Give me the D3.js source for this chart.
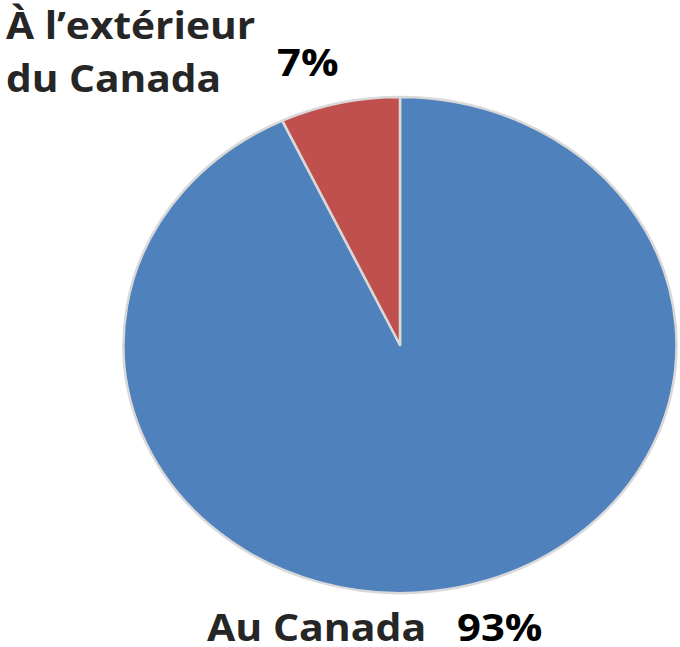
<!DOCTYPE html>
<html>
<head>
<meta charset="utf-8">
<script src="https://cdn.jsdelivr.net/npm/d3@7"></script>
<style>
  body { margin: 0; background: #fff; }
  text { font-family: "Open Sans", sans-serif; }
</style>
</head>
<body>
<svg id="svg" width="680" height="647"></svg>
<script>
// データ
const categories = ["Au Canada", "À l’extérieur du Canada"];
const values = [93, 7];
const colors = ["#4f81bd", "#c0504d"];

const svg = d3.select("#svg");

// 円グラフ（横に少し引き伸ばされている）
const r = 248;
const stretch = 276.5 / 248;
const pieG = svg.append("g")
  .attr("transform", `translate(400,345) scale(${stretch},1)`);

const pie = d3.pie().sort(null).value(d => d);
const arc = d3.arc().innerRadius(0).outerRadius(r);

pieG.selectAll("path")
  .data(pie(values))
  .join("path")
  .attr("d", arc)
  .attr("fill", (d, i) => colors[i])
  .attr("stroke", "#d9d9d9")
  .attr("stroke-width", 2.5)
  .attr("vector-effect", "non-scaling-stroke")
  .attr("stroke-linejoin", "round");

// ラベル（文字も横に引き伸ばす）
const fmt = v => v + "%";
function label(x, y, sx, size, color, lines) {
  const t = svg.append("text")
    .attr("transform", `translate(${x},${y}) scale(${sx},1)`)
    .attr("fill", color)
    .attr("font-weight", 700)
    .attr("font-size", size);
  lines.forEach((s, i) => {
    t.append("tspan").attr("x", 0).attr("y", i * 53).text(s);
  });
}

// 7% 側のラベル（2行）
label(6, 39, 1.1, 37, "#262626", ["À l’extérieur", "du Canada"]);
label(277, 76, 1.13, 37, "#000", [fmt(values[1])]);

// 93% 側のラベル
label(207, 641, 1.08, 38, "#262626", [categories[0]]);
label(457, 641, 1.13, 37, "#000", [fmt(values[0])]);
</script>
</body>
</html>
